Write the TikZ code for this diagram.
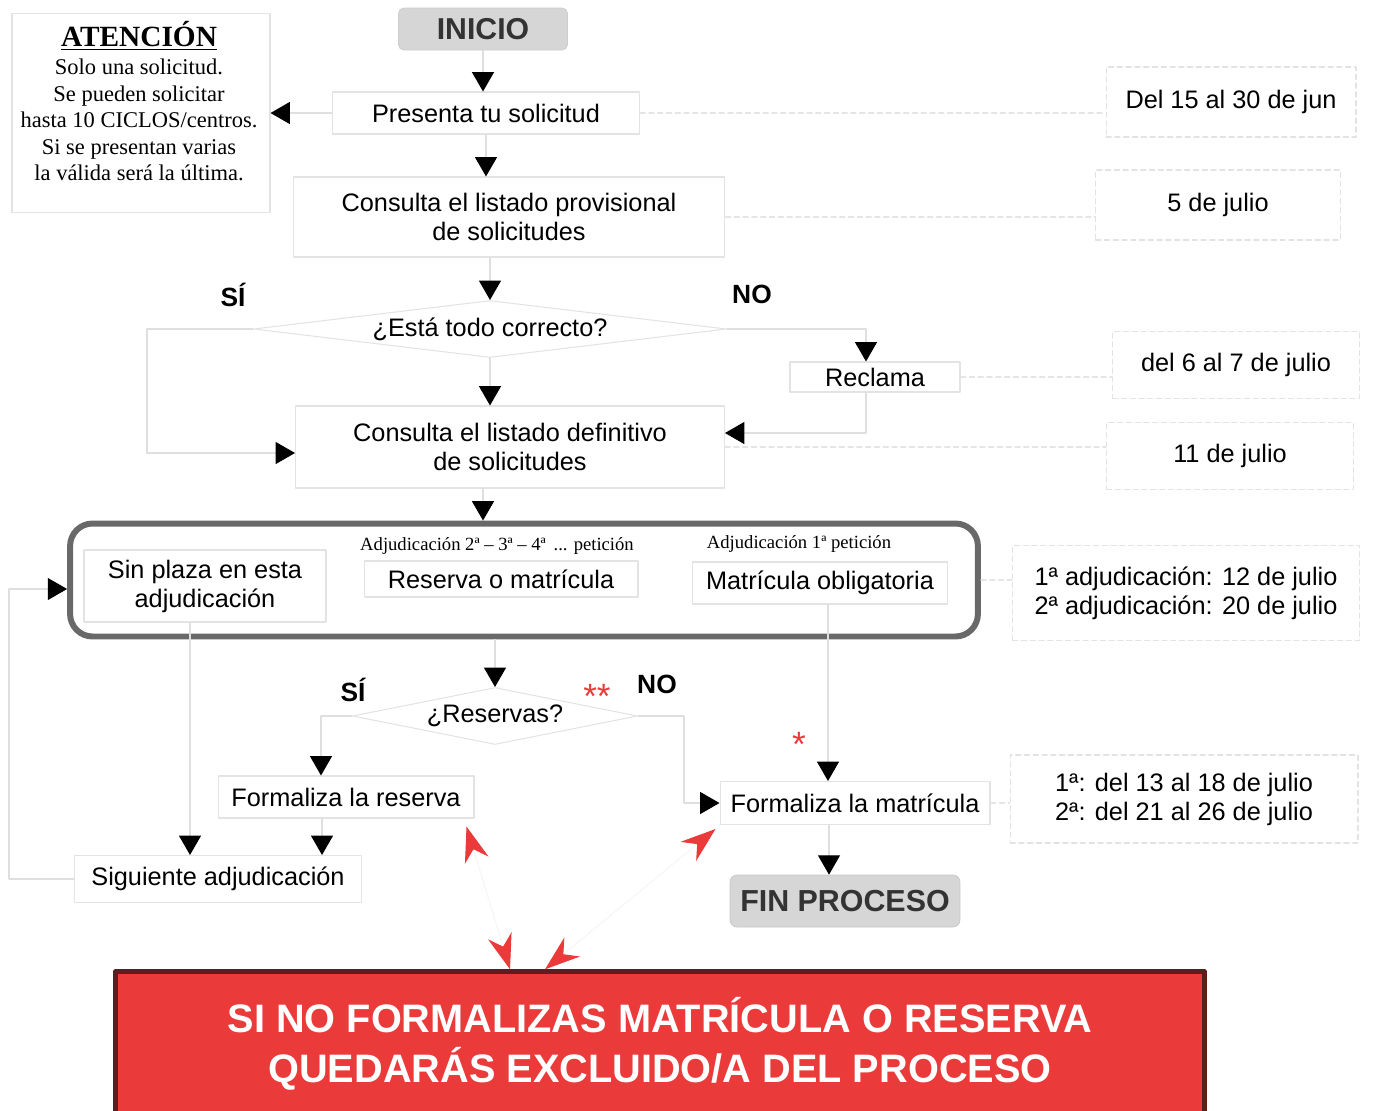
\documentclass[tikz,border=0pt]{standalone}
\usepackage{fontspec}
\setmainfont{Liberation Sans}
\newfontfamily\romana{Liberation Serif}
\usetikzlibrary{arrows.meta,shapes.geometric}
\definecolor{rojo}{RGB}{234,58,58}
\definecolor{rojoosc}{RGB}{90,30,30}
\definecolor{gris}{RGB}{214,214,214}
\definecolor{marco}{RGB}{105,105,105}

\begin{document}
\begin{tikzpicture}[line cap=round,line join=round,x=0.02cm,y=-0.02cm,
    caja/.style={draw=gray!22,line width=0.6pt,align=center,inner sep=0pt,font=\fontsize{14.4}{16.5}\selectfont},
    fecha/.style={draw=gray!22,densely dashed,line width=0.6pt,align=center,inner sep=0pt,font=\fontsize{14.4}{16.5}\selectfont},
    rombo/.style={diamond,draw=gray!22,line width=0.6pt,inner sep=0pt,font=\fontsize{14.4}{16.5}\selectfont},
    gordo/.style={inner sep=0pt,font=\bfseries\fontsize{15}{18}\selectfont},
    etiq/.style={inner sep=0pt,font=\romana\fontsize{10.6}{12}\selectfont},
    estrella/.style={inner sep=0pt,text=rojo,font=\fontsize{20}{22}\selectfont},
    flecha/.style={draw=gray!25,line width=0.6pt,-{Triangle[length=11pt,width=12.5pt,color=black]}},
    guia/.style={draw=gray!20,line width=0.6pt,densely dashed},
    aviso/.style={draw=gray!8,line width=0.6pt,{Stealth[length=20pt,width=14pt,color=rojo]}-{Stealth[length=20pt,width=14pt,color=rojo]}}]
  \useasboundingbox (0,0) rectangle (1384,1110);

  \node[caja,minimum width=5.16cm,minimum height=3.98cm] (atencion) at (141,113) {};
  \node[align=center,inner sep=0pt,font=\romana\fontsize{12.8}{15.1}\selectfont] (atencionTxt) at (139,101)
    {{\bfseries\fontsize{16.7}{20}\selectfont\underline{ATENCIÓN}}\\[1pt]Solo una solicitud.\\Se pueden solicitar\\hasta 10 CICLOS/centros.\\Si se presentan varias\\la válida será la última.};

  \node[draw=gray!40,fill=gris,rounded corners=3pt,minimum width=3.38cm,minimum height=0.84cm,
    font=\bfseries\fontsize{17.2}{20}\selectfont,text=black!80] (inicio) at (483,29) {INICIO};
  \node[caja,minimum width=6.14cm,minimum height=0.84cm] (presenta) at (486,113) {Presenta tu solicitud};
  \node[caja,minimum width=8.64cm,minimum height=1.6cm] (provisional) at (509,217) {Consulta el listado provisional\\de solicitudes};
  \node[rombo,aspect=8.3,minimum width=9.46cm,minimum height=1.14cm] (correcto) at (490,329) {¿Está todo correcto?};
  \node[caja,minimum width=3.4cm,minimum height=0.6cm] (reclama) at (875,377) {Reclama};
  \node[caja,minimum width=8.58cm,minimum height=1.64cm] (definitivo) at (510,447) {Consulta el listado definitivo\\de solicitudes};

  \node[draw=marco,line width=3.4pt,rounded corners=0.45cm,minimum width=18.16cm,minimum height=2.26cm] (adjudica) at (524,580) {};
  \node[caja,minimum width=4.84cm,minimum height=1.44cm] (sinplaza) at (205,586) {Sin plaza en esta\\adjudicación};
  \node[caja,minimum width=5.48cm,minimum height=0.72cm] (reserva) at (501,579) {Reserva o matrícula};
  \node[caja,minimum width=5.1cm,minimum height=0.84cm] (obligatoria) at (820,583) {Matrícula obligatoria};
  \node[etiq] (peticion2) at (497,546) {Adjudicación 2ª – 3ª – 4ª \,... petición};
  \node[etiq] (peticion1) at (799,544) {Adjudicación 1ª petición};

  \node[rombo,aspect=5,minimum width=5.7cm,minimum height=1.14cm] (reservas) at (495,716) {¿Reservas?};
  \node[caja,minimum width=5.12cm,minimum height=0.84cm] (formreserva) at (346,797) {Formaliza la reserva};
  \node[caja,minimum width=5.74cm,minimum height=0.94cm] (siguiente) at (218,879) {Siguiente adjudicación};
  \node[caja,minimum width=5.4cm,minimum height=0.86cm] (formmatricula) at (855,803) {Formaliza la matrícula};
  \node[draw=gray!45,fill=gris,rounded corners=4pt,minimum width=4.6cm,minimum height=1.04cm,
    font=\bfseries\fontsize{17.3}{20}\selectfont,text=black!80] (fin) at (845,901) {FIN PROCESO};

  \node[draw=rojoosc,line width=2.5pt,fill=rojo,minimum width=21.78cm,minimum height=2.9cm,align=center,
    text=white,font=\bfseries\fontsize{22.6}{28.5}\selectfont] (exclusion) at (660,1044)
    {SI NO FORMALIZAS MATRÍCULA O RESERVA\\QUEDARÁS EXCLUIDO/A DEL PROCESO};

  \node[fecha,minimum width=5cm,minimum height=1.4cm] (plazo1) at (1231,102) {Del 15 al 30 de jun};
  \node[fecha,minimum width=4.9cm,minimum height=1.4cm] (plazo2) at (1218,205) {5 de julio};
  \node[fecha,minimum width=4.94cm,minimum height=1.34cm] (plazo3) at (1236,365) {del 6 al 7 de julio};
  \node[fecha,minimum width=4.94cm,minimum height=1.34cm] (plazo4) at (1230,456) {11 de julio};
  \node[fecha,minimum width=6.94cm,minimum height=1.9cm] (plazo5) at (1186,593) {1ª adjudicación: 12 de julio\\2ª adjudicación: 20 de julio};
  \node[fecha,minimum width=6.96cm,minimum height=1.76cm] (plazo6) at (1184,799) {1ª: del 13 al 18 de julio\\2ª: del 21 al 26 de julio};

  \node[gordo] (si1) at (233,295) {SÍ};
  \node[gordo] (no1) at (752,294) {NO};
  \node[gordo] (si2) at (353,690) {SÍ};
  \node[gordo] (no2) at (657,684) {NO};
  \node[estrella] (ast2) at (597,696) {**};
  \node[estrella] (ast1) at (799,744) {*};

  \draw[flecha] (inicio) -- (inicio |- presenta.north);
  \draw[flecha] (presenta.west) -- (presenta.west -| atencion.east);
  \draw[flecha] (presenta) -- (presenta |- provisional.north);
  \draw[flecha] (provisional.south -| correcto) -- (correcto.north);
  \draw[flecha] (correcto.south) -- (correcto.south |- definitivo.north);
  \draw[flecha] (correcto.west) -- ++(-106,0) |- ([yshift=-0.12cm]definitivo.west);
  \draw[flecha] (correcto.east) -| ([xshift=-0.18cm]reclama.north);
  \draw[flecha] ([xshift=-0.18cm]reclama.south) |- ([yshift=0.28cm]definitivo.east);
  \draw[flecha] (definitivo.south -| inicio) -- (adjudica.north -| inicio);
  \draw[flecha] (adjudica.south -| reservas) -- (reservas.north);
  \draw[flecha] (reservas.west) -| ([xshift=-0.5cm]formreserva.north);
  \draw[flecha] (reservas.east) -- ++(46,0) |- (formmatricula.west);
  \draw[flecha] ([xshift=-0.48cm]formreserva.south) -- ([xshift=-0.48cm]formreserva.south |- siguiente.north);
  \draw[flecha] ([xshift=-0.3cm]sinplaza.south) -- ([xshift=-0.3cm]sinplaza.south |- siguiente.north);
  \draw[flecha] (siguiente.west) -- ++(-65,0) |- ([yshift=-0.18cm]adjudica.west);
  \draw[flecha] ([xshift=0.16cm]obligatoria.south) -- ([xshift=0.16cm]obligatoria.south |- formmatricula.north);
  \draw[flecha] ([xshift=-0.52cm]formmatricula.south) -- ([xshift=-0.52cm]formmatricula.south |- fin.north);

  \draw[aviso] ([xshift=-3cm]exclusion.north) -- ([xshift=-0.16cm,yshift=-0.16cm]formreserva.south east);
  \draw[aviso] ([xshift=-2.3cm]exclusion.north) -- ([xshift=-0.08cm,yshift=-0.08cm]formmatricula.south west);

  \draw[guia] (presenta.east) -- (presenta.east -| plazo1.west);
  \draw[guia] (provisional.east) -- (provisional.east -| plazo2.west);
  \draw[guia] (reclama.east) -- (reclama.east -| plazo3.west);
  \draw[guia] (definitivo.east) -- (definitivo.east -| plazo4.west);
  \draw[guia] (adjudica.east) -- (adjudica.east -| plazo5.west);
  \draw[guia] (formmatricula.east) -- (formmatricula.east -| plazo6.west);
\end{tikzpicture}
\end{document}
